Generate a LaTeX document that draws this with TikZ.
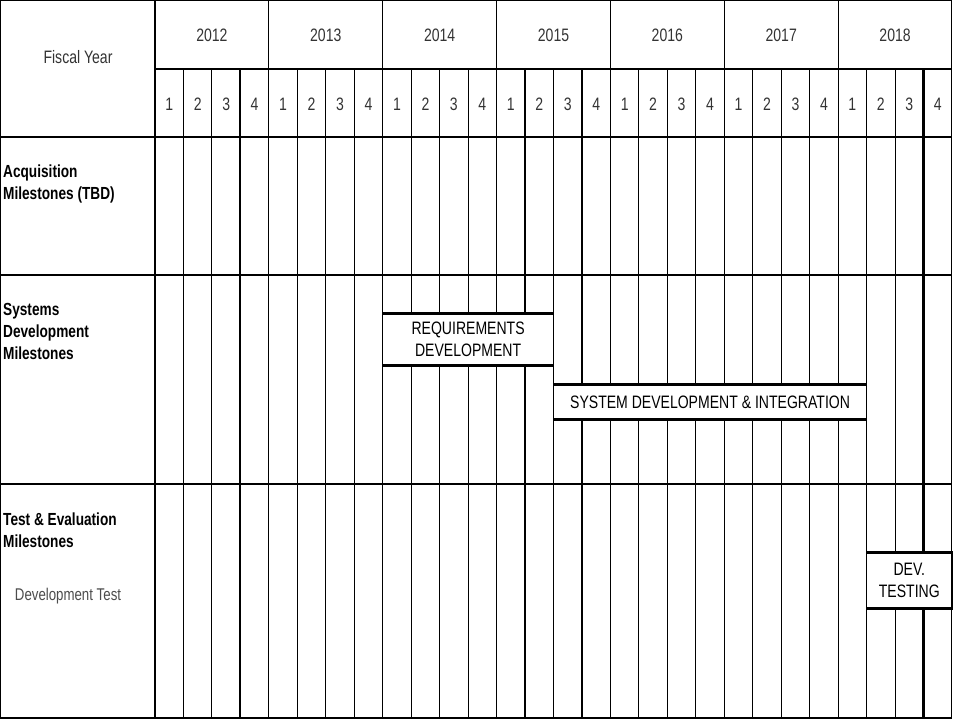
\documentclass[tikz,border=0pt]{standalone}
\usepackage{fontspec}
\setmainfont[FakeStretch=0.78]{Liberation Sans}
\usetikzlibrary{positioning}

\begin{document}
\begin{tikzpicture}[x=1pt, y=-1pt,
  grid/.style={line width=1.1pt},
  heavy/.style={line width=2.8pt},
  hdr/.style={font=\fontsize{18}{20}\selectfont, text=black!80, inner sep=0pt},
  rowlbl/.style={font=\bfseries\fontsize{17.5}{22}\selectfont, align=left, anchor=west, inner sep=0pt},
  bar/.style={draw, line width=1.1pt, fill=white, align=center, inner sep=0pt, font=\fontsize{18}{22}\selectfont},
  barline/.style={line width=2.2pt},
]
\def\qw{28.464}
\useasboundingbox (0,0) rectangle (960,720);

% === Frame and grid ===
\draw[grid] (0.6,0.6) rectangle (951.5,718);
\draw[grid] (155,69) -- (952,69);
\foreach \k in {0,...,6}
  \draw[grid] ({155+4*\k*\qw},0) -- ({155+4*\k*\qw},718);
\foreach \k in {1,...,27}
  \draw[grid] ({155+\k*\qw},69) -- ++(0,649);
% heavier quarter marks
\foreach \k in {3,15,27}
  \draw[line width=2.2pt] ({155+\k*\qw},69) -- ++(0,649);
% row separators
\foreach \yy in {137,275,484}
  \draw[heavy] (0,\yy) -- (952,\yy);

% === Header ===
\node[hdr] (fy) at (78,57) {Fiscal Year};
\foreach \yr [count=\i from 0] in {2012,...,2018} {
  \node[hdr] (y\yr) at ({155+(4*\i+2)*\qw},35) {\yr};
  \foreach \qq in {1,...,4}
    \node[hdr] (q\yr-\qq) at ({155+(4*\i+\qq-0.5)*\qw},104) {\qq};
}

% === Row labels ===
\node[rowlbl] (acq) at (3,184) {Acquisition\\Milestones (TBD)};
\node[rowlbl] (sysdev) at (3,331) {Systems\\Development\\Milestones};
\node[rowlbl] (te) at (3,530) {Test \& Evaluation\\Milestones};
\node[font=\fontsize{17}{20}\selectfont, text=black!70, inner sep=0pt] (devtst) at (68,596) {Development Test};

% === Bars ===
\node[bar, minimum width={6*\qw}, minimum height=51] (req) at ({155+8*\qw+3*\qw},339.5) {REQUIREMENTS\\DEVELOPMENT};
\node[bar, minimum width={11*\qw}, minimum height=34] (sdi) at ({155+14*\qw+5.5*\qw},402) {SYSTEM DEVELOPMENT \& INTEGRATION};
\node[bar, minimum width={3*\qw}, minimum height=55] (dev) at ({155+25*\qw+1.5*\qw},580.5) {DEV.\\TESTING};

% bar top and bottom edges
\foreach \b in {req,sdi,dev} {
  \draw[barline] (\b.north west) -- (\b.north east);
  \draw[barline] (\b.south west) -- (\b.south east);
}
\end{tikzpicture}
\end{document}
